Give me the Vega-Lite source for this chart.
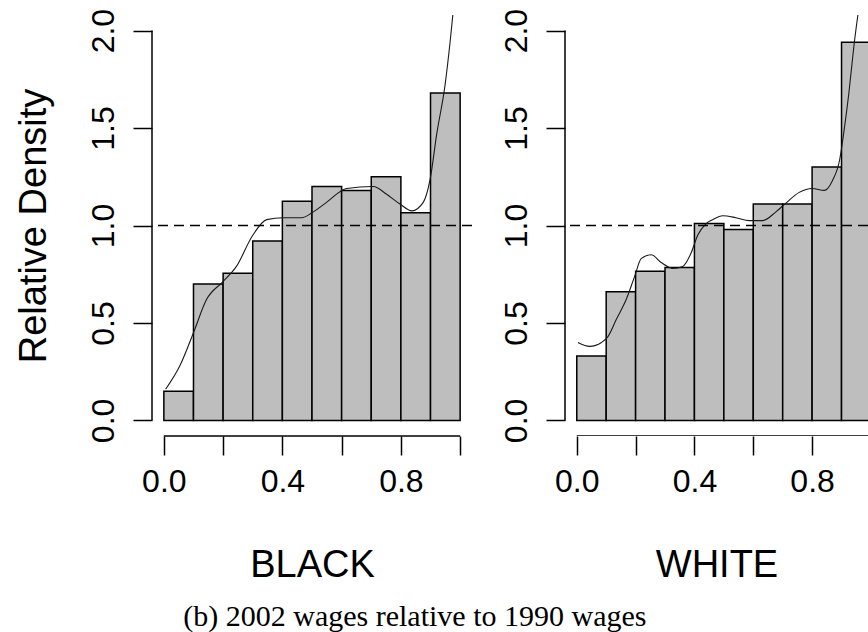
{
  "$schema": "https://vega.github.io/schema/vega-lite/v6.json",
  "background": "white",
  "padding": {"left": 15, "top": 8, "right": 0, "bottom": 0},
  "autosize": {"type": "pad"},
  "datasets": {
    "bars": [
      {"group": "BLACK", "lo": 0.0, "hi": 0.1, "density": 0.15},
      {"group": "BLACK", "lo": 0.1, "hi": 0.2, "density": 0.70},
      {"group": "BLACK", "lo": 0.2, "hi": 0.3, "density": 0.755},
      {"group": "BLACK", "lo": 0.3, "hi": 0.4, "density": 0.92},
      {"group": "BLACK", "lo": 0.4, "hi": 0.5, "density": 1.125},
      {"group": "BLACK", "lo": 0.5, "hi": 0.6, "density": 1.20},
      {"group": "BLACK", "lo": 0.6, "hi": 0.7, "density": 1.18},
      {"group": "BLACK", "lo": 0.7, "hi": 0.8, "density": 1.25},
      {"group": "BLACK", "lo": 0.8, "hi": 0.9, "density": 1.065},
      {"group": "BLACK", "lo": 0.9, "hi": 1.0, "density": 1.68},
      {"group": "WHITE", "lo": 0.0, "hi": 0.1, "density": 0.33},
      {"group": "WHITE", "lo": 0.1, "hi": 0.2, "density": 0.66},
      {"group": "WHITE", "lo": 0.2, "hi": 0.3, "density": 0.765},
      {"group": "WHITE", "lo": 0.3, "hi": 0.4, "density": 0.785},
      {"group": "WHITE", "lo": 0.4, "hi": 0.5, "density": 1.01},
      {"group": "WHITE", "lo": 0.5, "hi": 0.6, "density": 0.98},
      {"group": "WHITE", "lo": 0.6, "hi": 0.7, "density": 1.11},
      {"group": "WHITE", "lo": 0.7, "hi": 0.8, "density": 1.11},
      {"group": "WHITE", "lo": 0.8, "hi": 0.9, "density": 1.30},
      {"group": "WHITE", "lo": 0.9, "hi": 1.0, "density": 1.94}
    ],
    "curve": [
      {"group": "BLACK", "x": 0.006, "y": 0.16},
      {"group": "BLACK", "x": 0.054, "y": 0.28},
      {"group": "BLACK", "x": 0.10, "y": 0.45},
      {"group": "BLACK", "x": 0.144, "y": 0.62},
      {"group": "BLACK", "x": 0.198, "y": 0.71},
      {"group": "BLACK", "x": 0.245, "y": 0.79},
      {"group": "BLACK", "x": 0.30, "y": 0.95},
      {"group": "BLACK", "x": 0.347, "y": 1.03},
      {"group": "BLACK", "x": 0.403, "y": 1.04},
      {"group": "BLACK", "x": 0.465, "y": 1.04},
      {"group": "BLACK", "x": 0.50, "y": 1.065},
      {"group": "BLACK", "x": 0.55, "y": 1.12},
      {"group": "BLACK", "x": 0.617, "y": 1.19},
      {"group": "BLACK", "x": 0.707, "y": 1.20},
      {"group": "BLACK", "x": 0.752, "y": 1.16},
      {"group": "BLACK", "x": 0.797, "y": 1.11},
      {"group": "BLACK", "x": 0.837, "y": 1.075},
      {"group": "BLACK", "x": 0.876, "y": 1.12},
      {"group": "BLACK", "x": 0.899, "y": 1.24},
      {"group": "BLACK", "x": 0.921, "y": 1.47},
      {"group": "BLACK", "x": 0.949, "y": 1.72},
      {"group": "BLACK", "x": 0.966, "y": 1.94},
      {"group": "BLACK", "x": 0.978, "y": 2.12},
      {"group": "WHITE", "x": 0.004, "y": 0.40},
      {"group": "WHITE", "x": 0.044, "y": 0.38},
      {"group": "WHITE", "x": 0.084, "y": 0.40},
      {"group": "WHITE", "x": 0.106, "y": 0.43},
      {"group": "WHITE", "x": 0.135, "y": 0.52},
      {"group": "WHITE", "x": 0.168, "y": 0.62},
      {"group": "WHITE", "x": 0.197, "y": 0.74},
      {"group": "WHITE", "x": 0.219, "y": 0.83},
      {"group": "WHITE", "x": 0.253, "y": 0.85},
      {"group": "WHITE", "x": 0.287, "y": 0.81},
      {"group": "WHITE", "x": 0.327, "y": 0.78},
      {"group": "WHITE", "x": 0.36, "y": 0.79},
      {"group": "WHITE", "x": 0.389, "y": 0.86},
      {"group": "WHITE", "x": 0.411, "y": 0.95},
      {"group": "WHITE", "x": 0.44, "y": 1.01},
      {"group": "WHITE", "x": 0.462, "y": 1.03},
      {"group": "WHITE", "x": 0.496, "y": 1.05},
      {"group": "WHITE", "x": 0.541, "y": 1.04},
      {"group": "WHITE", "x": 0.586, "y": 1.025},
      {"group": "WHITE", "x": 0.632, "y": 1.025},
      {"group": "WHITE", "x": 0.677, "y": 1.07},
      {"group": "WHITE", "x": 0.711, "y": 1.115},
      {"group": "WHITE", "x": 0.756, "y": 1.17},
      {"group": "WHITE", "x": 0.801, "y": 1.19},
      {"group": "WHITE", "x": 0.841, "y": 1.18},
      {"group": "WHITE", "x": 0.869, "y": 1.23},
      {"group": "WHITE", "x": 0.894, "y": 1.34},
      {"group": "WHITE", "x": 0.908, "y": 1.48},
      {"group": "WHITE", "x": 0.925, "y": 1.68},
      {"group": "WHITE", "x": 0.942, "y": 1.92},
      {"group": "WHITE", "x": 0.962, "y": 2.15}
    ]
  },
  "config": {
    "view": {"stroke": null},
    "font": "Liberation Sans",
    "axis": {
      "grid": false,
      "domain": false,
      "tickColor": "black",
      "tickWidth": 1.5,
      "tickSize": 19,
      "labelFont": "Liberation Sans",
      "labelFontSize": 32,
      "labelColor": "black",
      "labelFlush": false,
      "labelOverlap": false,
      "titleFont": "Liberation Sans",
      "titleFontSize": 38,
      "titleFontWeight": "normal",
      "titleColor": "black"
    }
  },
  "title": {
    "text": "(b) 2002 wages relative to 1990 wages",
    "orient": "bottom",
    "anchor": "middle",
    "font": "Liberation Serif",
    "fontSize": 30,
    "fontWeight": "normal",
    "color": "black",
    "offset": 18,
    "dx": -27
  },
  "spacing": 93,
  "bounds": "flush",
  "hconcat": [
    {
      "width": 320,
      "height": 421,
      "layer": [
        {
          "data": {"name": "bars"},
          "transform": [{"filter": "datum.group == 'BLACK'"}],
          "mark": {"type": "rect", "fill": "#bebebe", "stroke": "black", "strokeWidth": 1.5, "clip": true},
          "encoding": {
            "x": {"field": "lo", "type": "quantitative",
              "scale": {"domain": [-0.04, 1.04], "nice": false, "zero": false},
              "axis": {"title": "BLACK", "values": [0, 0.2, 0.4, 0.6, 0.8, 1.0],
                "labelExpr": "(datum.value < 0.01 || abs(datum.value - 0.4) < 0.01 || abs(datum.value - 0.8) < 0.01) ? format(datum.value, '.1f') : ''",
                "labelPadding": 11, "titlePadding": 49}},
            "x2": {"field": "hi"},
            "y": {"field": "density", "type": "quantitative",
              "scale": {"domain": [-0.08, 2.08], "nice": false, "zero": false},
              "axis": {"title": "Relative Density", "values": [0, 0.5, 1, 1.5, 2], "format": ".1f",
                "labelAngle": 270, "labelAlign": "center", "labelBaseline": "alphabetic",
                "labelPadding": 20, "titlePadding": 34}},
            "y2": {"datum": 0}
          }
        },
        {
          "data": {"name": "curve"},
          "transform": [{"filter": "datum.group == 'BLACK'"}],
          "mark": {"type": "line", "stroke": "#1a1a1a", "strokeWidth": 1.1, "clip": true, "interpolate": "monotone"},
          "encoding": {
            "x": {"field": "x", "type": "quantitative", "scale": {"domain": [-0.04, 1.04], "nice": false, "zero": false}},
            "y": {"field": "y", "type": "quantitative", "scale": {"domain": [-0.08, 2.08], "nice": false, "zero": false}}
          }
        },
        {
          "data": {"values": [{}]},
          "mark": {"type": "rule", "stroke": "black", "strokeWidth": 1.5, "strokeDash": [10, 6]},
          "encoding": {"y": {"datum": 1, "type": "quantitative"}}
        },
        {
          "data": {"values": [{}]},
          "mark": {"type": "rule", "stroke": "black", "strokeWidth": 1.5},
          "encoding": {"x": {"datum": 0, "type": "quantitative"}, "x2": {"datum": 1}, "y": {"datum": -0.08, "type": "quantitative"}}
        },
        {
          "data": {"values": [{}]},
          "mark": {"type": "rule", "stroke": "black", "strokeWidth": 1.5},
          "encoding": {"x": {"datum": -0.04, "type": "quantitative"}, "y": {"datum": 0, "type": "quantitative"}, "y2": {"datum": 2}}
        }
      ]
    },
    {
      "width": 303,
      "height": 421,
      "layer": [
        {
          "data": {"name": "bars"},
          "transform": [{"filter": "datum.group == 'WHITE'"}],
          "mark": {"type": "rect", "fill": "#bebebe", "stroke": "black", "strokeWidth": 1.5, "clip": true},
          "encoding": {
            "x": {"field": "lo", "type": "quantitative",
              "scale": {"domain": [-0.04, 0.99], "nice": false, "zero": false},
              "axis": {"title": "WHITE", "values": [0, 0.2, 0.4, 0.6, 0.8],
                "labelExpr": "(datum.value < 0.01 || abs(datum.value - 0.4) < 0.01 || abs(datum.value - 0.8) < 0.01) ? format(datum.value, '.1f') : ''",
                "labelPadding": 11, "titlePadding": 49}},
            "x2": {"field": "hi"},
            "y": {"field": "density", "type": "quantitative",
              "scale": {"domain": [-0.08, 2.08], "nice": false, "zero": false},
              "axis": {"title": null, "values": [0, 0.5, 1, 1.5, 2], "format": ".1f",
                "labelAngle": 270, "labelAlign": "center", "labelBaseline": "alphabetic",
                "labelPadding": 20}},
            "y2": {"datum": 0}
          }
        },
        {
          "data": {"name": "curve"},
          "transform": [{"filter": "datum.group == 'WHITE'"}],
          "mark": {"type": "line", "stroke": "#1a1a1a", "strokeWidth": 1.1, "clip": true, "interpolate": "monotone"},
          "encoding": {
            "x": {"field": "x", "type": "quantitative", "scale": {"domain": [-0.04, 0.99], "nice": false, "zero": false}},
            "y": {"field": "y", "type": "quantitative", "scale": {"domain": [-0.08, 2.08], "nice": false, "zero": false}}
          }
        },
        {
          "data": {"values": [{}]},
          "mark": {"type": "rule", "stroke": "black", "strokeWidth": 1.5, "strokeDash": [10, 6]},
          "encoding": {"y": {"datum": 1, "type": "quantitative"}}
        },
        {
          "data": {"values": [{}]},
          "mark": {"type": "rule", "stroke": "black", "strokeWidth": 1.5, "clip": true},
          "encoding": {"x": {"datum": 0, "type": "quantitative"}, "x2": {"datum": 1}, "y": {"datum": -0.08, "type": "quantitative"}}
        },
        {
          "data": {"values": [{}]},
          "mark": {"type": "rule", "stroke": "black", "strokeWidth": 1.5},
          "encoding": {"x": {"datum": -0.04, "type": "quantitative"}, "y": {"datum": 0, "type": "quantitative"}, "y2": {"datum": 2}}
        }
      ]
    }
  ]
}
